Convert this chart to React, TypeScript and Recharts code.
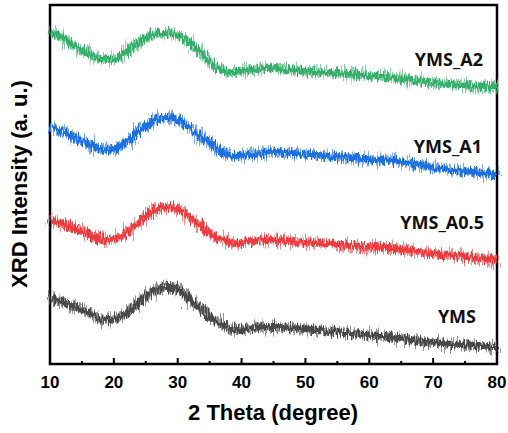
import { LineChart, Line, XAxis, YAxis, ReferenceArea } from 'recharts';

// 2θ positions (degree)
const theta = [
    10, 11, 12, 13, 14, 15, 16, 17, 18, 19,
    20, 21, 22, 23, 24, 25, 26, 27, 28, 29,
    30, 31, 32, 33, 34, 35, 36, 37, 38, 39,
    40, 41, 42, 43, 44, 45, 46, 47, 48, 49,
    50, 51, 52, 53, 54, 55, 56, 57, 58, 59,
    60, 61, 62, 63, 64, 65, 66, 67, 68, 69,
    70, 71, 72, 73, 74, 75, 76, 77, 78, 79,
    80,
];

// stacked intensities (a. u.), offset per sample as in the figure
const ymsA2 = [
    332, 329, 326, 322, 318, 314, 310, 307, 305, 304,
    305, 308, 313, 318, 322, 326, 329, 331, 331, 331,
    329, 326, 321, 315, 308, 302, 297, 294, 292, 292,
    293, 294, 295, 296, 296, 296, 295, 294, 294, 293,
    293, 292, 292, 292, 291, 291, 290, 290, 289, 289,
    288, 288, 287, 287, 286, 285, 285, 284, 283, 282,
    281, 281, 280, 280, 279, 279, 278, 278, 278, 277,
    277,
];
const ymsA1 = [
    236, 234, 232, 229, 226, 223, 220, 217, 215, 214,
    215, 218, 222, 227, 233, 238, 242, 245, 246, 246,
    244, 240, 235, 230, 225, 221, 216, 212, 209, 208,
    208, 209, 210, 211, 211, 212, 212, 211, 211, 210,
    210, 209, 209, 208, 208, 207, 207, 206, 206, 205,
    205, 204, 204, 204, 203, 202, 201, 200, 199, 198,
    197, 196, 195, 194, 194, 193, 192, 191, 191, 190,
    189,
];
const ymsA05 = [
    144, 142, 140, 138, 136, 133, 130, 127, 125, 124,
    125, 127, 131, 136, 142, 148, 153, 156, 157, 157,
    155, 151, 146, 141, 136, 131, 127, 124, 122, 121,
    121, 122, 123, 124, 124, 124, 124, 123, 123, 122,
    122, 121, 121, 120, 120, 119, 119, 118, 118, 117,
    117, 117, 116, 116, 115, 115, 114, 113, 112, 111,
    110, 110, 109, 108, 108, 107, 106, 106, 105, 105,
    104,
];
const yms = [
    66, 64, 62, 59, 57, 54, 51, 48, 45, 44,
    45, 47, 51, 56, 62, 67, 72, 75, 77, 77,
    75, 70, 64, 58, 53, 48, 43, 39, 36, 35,
    34, 35, 36, 37, 37, 37, 37, 36, 36, 35,
    35, 34, 34, 33, 32, 32, 31, 31, 30, 29,
    29, 28, 28, 27, 26, 26, 25, 24, 23, 22,
    21, 21, 20, 20, 19, 19, 18, 18, 18, 17,
    17,
];

const xTicks = [10, 15, 20, 25, 30, 35, 40, 45, 50, 55, 60, 65, 70, 75, 80];
const seriesNames = ['YMS_A2', 'YMS_A1', 'YMS_A0.5', 'YMS'];

const data = theta.map((t, i) => ({
    t,
    a2: ymsA2[i],
    a1: ymsA1[i],
    a05: ymsA05[i],
    yms: yms[i],
}));

const PLOT_BOTTOM = 364;
const AXIS_FONT = '"Liberation Sans", Arial, sans-serif';

const series = [
    { key: 'a2', color: '#35b06a', label: seriesNames[0], lx: 483, ly: 66 },
    { key: 'a1', color: '#1c6fe0', label: seriesNames[1], lx: 482, ly: 153 },
    { key: 'a05', color: '#ee3a3e', label: seriesNames[2], lx: 484, ly: 229 },
    { key: 'yms', color: '#4a4a4a', label: seriesNames[3], lx: 476, ly: 323 },
];

function XTick(props: any) {
    const { x, payload } = props;
    const major = payload.value % 10 === 0;
    return (
        <g>
            <line x1={x} x2={x} y1={PLOT_BOTTOM} y2={PLOT_BOTTOM - (major ? 6 : 3)} stroke="#000" strokeWidth={2} />
            {major && (
                <text x={x} y={388} textAnchor="middle" fontSize={17} fontWeight="bold" fontFamily={AXIS_FONT} fill="#000">
                    {payload.value}
                </text>
            )}
        </g>
    );
}

export default function App() {
    return (
        <div style={{ position: 'absolute', left: 0, top: 0, width: 508, height: 433, background: '#fff' }}>
            <svg width={0} height={0} style={{ position: 'absolute' }}>
                <defs>
                    <filter id="jagged" x="-5%" y="-120%" width="110%" height="340%">
                        <feTurbulence type="fractalNoise" baseFrequency="0.9 0.05" numOctaves={2} seed={5} result="n" />
                        <feDisplacementMap in="SourceGraphic" in2="n" scale={22} xChannelSelector="R" yChannelSelector="G" />
                    </filter>
                    <filter id="jagged2" x="-5%" y="-120%" width="110%" height="340%">
                        <feTurbulence type="fractalNoise" baseFrequency="0.7 0.08" numOctaves={2} seed={11} result="n" />
                        <feDisplacementMap in="SourceGraphic" in2="n" scale={14} xChannelSelector="G" yChannelSelector="B" />
                    </filter>
                </defs>
            </svg>
            <LineChart width={508} height={433} data={data} margin={{ top: 5, right: 11, left: 50, bottom: 0 }}>
                <XAxis dataKey="t" type="number" domain={[10, 80]} ticks={xTicks} height={69}
                    axisLine={false} tickLine={false} tickSize={0} tick={<XTick />} interval={0} />
                <YAxis hide domain={[0, 359]} />
                {series.map(s => (
                    <Line key={s.key + '-fringe'} dataKey={s.key} type="monotone" stroke={s.color} strokeWidth={7}
                        strokeOpacity={0.6} dot={false} activeDot={false} isAnimationActive={false} filter="url(#jagged)" />
                ))}
                {series.map(s => (
                    <Line key={s.key + '-core'} dataKey={s.key} type="monotone" stroke={s.color} strokeWidth={6}
                        dot={false} activeDot={false} isAnimationActive={false} filter="url(#jagged2)" />
                ))}
                <ReferenceArea x1={10} x2={80} y1={0} y2={359} fill="none" stroke="#000" strokeWidth={2.5} />
            </LineChart>
            <svg width={508} height={433} style={{ position: 'absolute', left: 0, top: 0, pointerEvents: 'none' }}>
                {series.map(s => (
                    <text key={s.key} x={s.lx} y={s.ly} textAnchor="end" fontSize={18} fontWeight={700}
                        fontFamily='"Open Sans", sans-serif' fill="#111">
                        {s.label}
                    </text>
                ))}
                <text x={273} y={420} textAnchor="middle" fontSize={22} fontWeight="bold" fontFamily={AXIS_FONT} fill="#000">
                    2 Theta (degree)
                </text>
                <text x={27} y={184} transform="rotate(-90 27 184)" textAnchor="middle" fontSize={22} fontWeight="bold"
                    fontFamily={AXIS_FONT} fill="#000">
                    XRD Intensity (a. u.)
                </text>
            </svg>
        </div>
    );
}
